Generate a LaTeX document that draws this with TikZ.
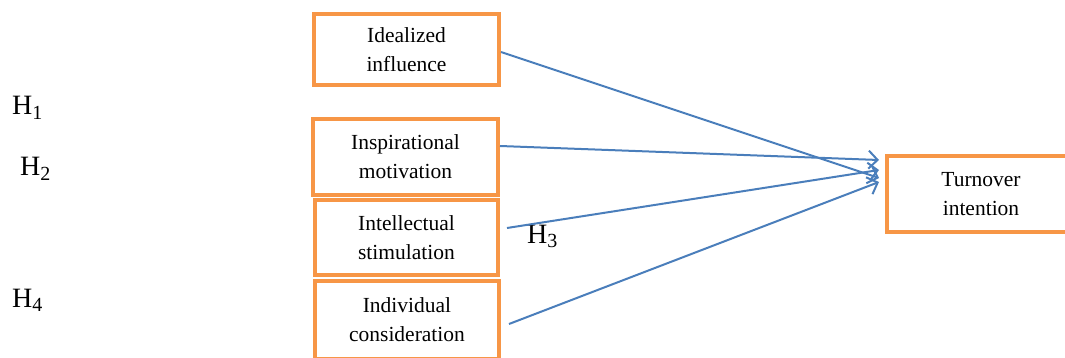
\documentclass[tikz,border=0pt]{standalone}
\usepackage{fontspec}
\setmainfont{Liberation Serif}
\usetikzlibrary{arrows.meta,calc}
\definecolor{boxorange}{HTML}{F79646}
\definecolor{arrowblue}{HTML}{4A7EBB}
\newcommand{\hyp}[1]{{\fontsize{28}{28}\selectfont H}{\fontsize{20}{20}\selectfont\raisebox{-4.5pt}{#1}}}
\begin{document}
\begin{tikzpicture}[x=1pt,y=-1pt,
  box/.style={draw=boxorange,line width=4pt,fill=white,inner sep=0pt,align=center,
    font=\fontsize{21.5}{29}\selectfont},
  link/.style={draw=arrowblue,line width=2pt,-{Straight Barb[length=9pt,width=18pt,line width=2pt]}},
  hlab/.style={anchor=base west,inner sep=0pt}]
\useasboundingbox (0,0) rectangle (1065,358);
\node[box,minimum width=185pt,minimum height=71pt] (b1) at (406.5,49.5) {Idealized\\influence};
\node[box,minimum width=185pt,minimum height=76pt] (b2) at (405.5,157) {Inspirational\\motivation};
\node[box,minimum width=183pt,minimum height=75pt] (b3) at (406.5,237.5) {Intellectual\\stimulation};
\node[box,minimum width=184pt,minimum height=78pt] (b4) at (407,320) {Individual\\consideration};
\node[box,minimum width=188pt,minimum height=76pt] (t) at (981,194) {Turnover\\intention};
\node[hlab] (h1) at (12,115) {\hyp{1}};
\node[hlab] (h2) at (20,176) {\hyp{2}};
\node[hlab] (h3) at (527,243) {\hyp{3}};
\node[hlab] (h4) at (12,307) {\hyp{4}};
\draw[link] ([yshift=-2.5pt]b1.east) -- ([xshift=-6pt,yshift=16pt]t.west);
\draw[link] ([yshift=11pt]b2.east) -- ([xshift=-6pt,yshift=34pt]t.west);
\draw[link] ([xshift=7pt,yshift=9.5pt]b3.east) -- ([xshift=-6pt,yshift=24pt]t.west);
\draw[link] ([xshift=8pt,yshift=-4pt]b4.east) -- ([xshift=-6pt,yshift=12pt]t.west);
\end{tikzpicture}
\end{document}
